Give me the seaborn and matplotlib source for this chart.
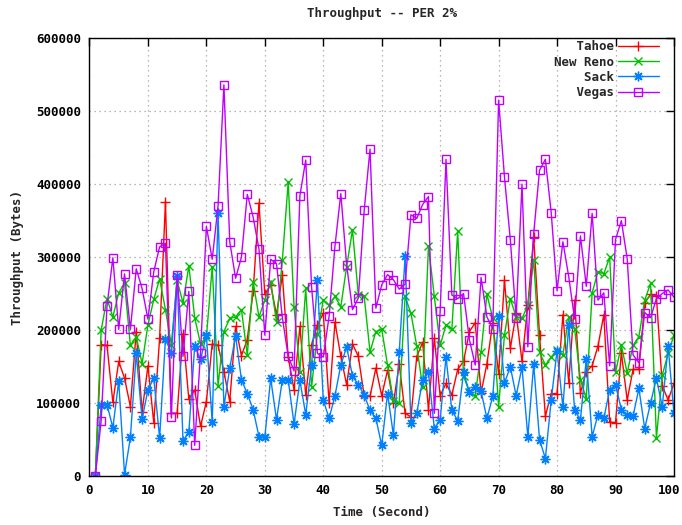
import matplotlib
matplotlib.use("Agg")
import matplotlib.pyplot as plt
import matplotlib.transforms as mtransforms
from matplotlib.ticker import FuncFormatter
import seaborn as sns
import pandas as pd

# ---- data (values in kBytes) ----
time = list(range(1, 101))

tahoe = [0, 180, 179, 101, 157, 134, 95, 198, 88, 151, 73, 189, 376,
         86, 86, 195, 105, 118, 68, 102, 181, 179, 143, 102, 205,
         165, 187, 253, 374, 249, 262, 221, 275, 163, 118, 205, 111, 180,
         207, 223, 100, 211, 164, 125, 181, 164, 110, 109, 148, 110, 145,
         100, 153, 86, 81, 164, 183, 91, 189, 110, 127, 111, 146, 157,
         198, 210, 114, 154, 210, 140, 268, 175, 223, 157, 234, 328, 193,
         82, 113, 113, 221, 128, 241, 114, 143, 151, 178, 221, 74, 73,
         169, 104, 146, 146, 237, 249, 246, 124, 104, 127]

newreno = [0, 200, 243, 218, 251, 264, 179, 191, 154, 207, 242, 270, 228,
           180, 268, 237, 288, 217, 181, 190, 287, 124, 198, 216, 218,
           228, 166, 266, 218, 241, 266, 211, 296, 403, 232, 143, 257, 122,
           195, 241, 234, 246, 232, 287, 337, 248, 246, 170, 198, 201, 152,
           103, 100, 246, 223, 178, 122, 315, 246, 179, 207, 201, 336, 137,
           115, 110, 170, 249, 216, 95, 193, 243, 218, 216, 234, 296, 170,
           152, 163, 173, 166, 218, 202, 132, 106, 251, 280, 277, 300, 142,
           179, 141, 179, 191, 241, 264, 52, 138, 168, 193]

sack = [0, 97, 98, 66, 130, 2, 53, 168, 78, 118, 134, 52, 188,
        168, 274, 48, 60, 178, 160, 193, 74, 360, 95, 148, 192,
        132, 113, 91, 54, 53, 134, 77, 132, 132, 71, 131, 84, 152,
        268, 104, 79, 110, 152, 177, 137, 125, 111, 90, 79, 42, 113,
        56, 170, 301, 72, 86, 132, 142, 65, 77, 163, 90, 76, 142,
        115, 122, 116, 79, 109, 219, 127, 150, 110, 149, 54, 153, 50,
        24, 104, 172, 94, 207, 90, 77, 161, 54, 84, 79, 118, 125,
        91, 83, 82, 120, 65, 100, 134, 95, 178, 86]

vegas = [0, 76, 233, 299, 201, 277, 201, 284, 257, 215, 280, 314, 319,
         81, 276, 164, 253, 42, 169, 342, 297, 370, 536, 321, 271,
         300, 386, 355, 311, 193, 297, 291, 217, 164, 144, 384, 433, 259,
         168, 163, 219, 315, 387, 289, 228, 244, 364, 448, 230, 262, 276,
         269, 256, 263, 358, 353, 372, 383, 86, 226, 434, 248, 243, 250,
         187, 152, 272, 218, 202, 515, 410, 324, 217, 400, 177, 332, 419,
         434, 361, 254, 321, 273, 215, 329, 260, 360, 241, 251, 151, 324,
         350, 298, 166, 155, 224, 217, 243, 250, 255, 245]

series_names = ["Tahoe", "New Reno", "Sack", "Vegas"]
x_ticks = list(range(0, 101, 10))
y_ticks = list(range(0, 600001, 100000))

# ---- style ----
sns.set_style("white")
plt.rcParams["font.family"] = ["DejaVu Sans Mono", "DejaVu Sans"]
plt.rcParams["font.weight"] = "bold"
plt.rcParams["font.size"] = 9

fig = plt.figure(figsize=(6.82, 5.25), dpi=100)
ax = fig.add_axes([0.1312, 0.0933, 0.857, 0.834])

colors = ["#ff0000", "#00c000", "#0080ff", "#c000ff"]
markers = ["+", "x", (8, 2, 0), "s"]
msizes = [7, 6, 7, 6]
values = [tahoe, newreno, sack, vegas]

# monospace font: pad names so they end up right-aligned like gnuplot's key
width = max(len(n) for n in series_names)
for name, vals, col, mk, ms in zip(series_names, values, colors, markers, msizes):
    df = pd.DataFrame({"time": time, "bytes": [v * 1000 for v in vals]})
    kw = dict(marker=mk, markersize=ms, markeredgecolor=col, markeredgewidth=1.0)
    if mk == "s":
        kw["markerfacecolor"] = "none"
    sns.lineplot(data=df, x="time", y="bytes", ax=ax, color=col, linewidth=1.0,
                 label=name.rjust(width), **kw)

ax.set_xlim(0, 100)
ax.set_ylim(0, 600000)
ax.set_xticks(x_ticks)
ax.set_yticks(y_ticks)
ax.yaxis.set_major_formatter(FuncFormatter(lambda v, p: f"{int(v)}"))
ax.tick_params(direction="in", length=6, width=1, top=True, right=True,
               labelsize=9, colors="black", pad=6)
ax.grid(True, color="#a0a0a0", linestyle=(0, (1, 3)), linewidth=0.9)
ax.set_axisbelow(True)
for s in ax.spines.values():
    s.set_color("black")
    s.set_linewidth(1.0)
    s.set_visible(True)

# nudge the last x tick label so it stays inside the canvas
lbls = ax.get_xticklabels()
off = mtransforms.ScaledTranslation(-5 / 100, 0, fig.dpi_scale_trans)
lbls[-1].set_transform(lbls[-1].get_transform() + off)

ax.set_title("Throughput -- PER 2%", fontsize=9, fontweight="bold", pad=15)
ax.set_xlabel("Time (Second)", fontsize=9, fontweight="bold", labelpad=6)
ax.set_ylabel("Throughput (Bytes)", fontsize=9, fontweight="bold", labelpad=9)

leg = ax.legend(loc="upper right", bbox_to_anchor=(0.974, 0.995),
                frameon=False, markerfirst=False,
                handlelength=3.3, labelspacing=0.18, handletextpad=0.3,
                borderaxespad=0.0, borderpad=0.0, fontsize=9)

fig.savefig("out.png", dpi=100, facecolor="white")
